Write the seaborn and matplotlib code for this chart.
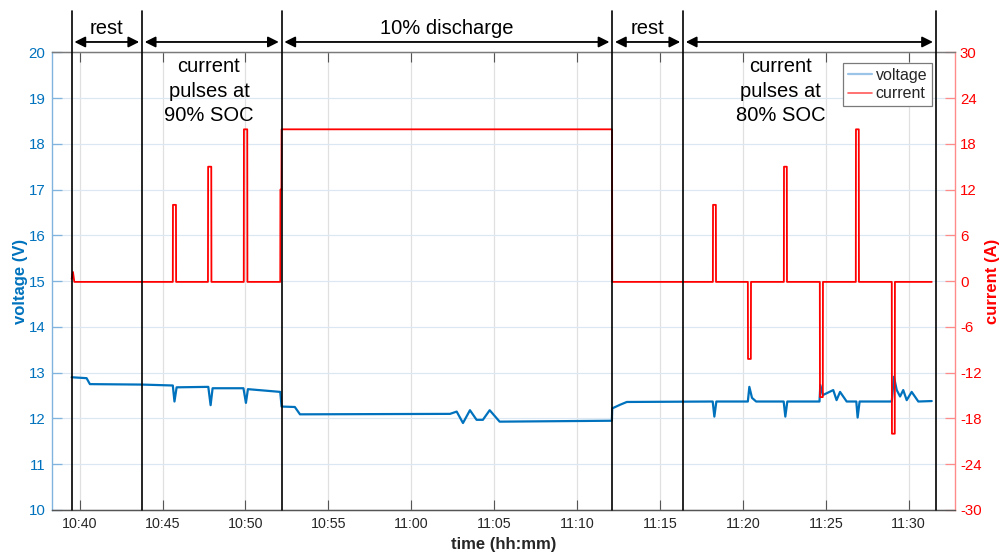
import numpy as np
import pandas as pd
import matplotlib
matplotlib.use("Agg")
import matplotlib.pyplot as plt
import seaborn as sns
from matplotlib.lines import Line2D

# ---------------- data (minutes after 10:40) ----------------
volt_t = [-0.48, 0.42, 0.62, 3.76, 5.62, 5.72, 5.85, 7.76, 7.90, 8.02, 9.88, 10.03,
          10.15, 12.10, 12.18, 12.98, 13.29, 22.34, 22.74, 23.12, 23.54, 23.94, 24.32,
          24.73, 25.33, 32.10, 32.12, 32.60, 33.00, 38.18, 38.28, 38.40, 40.30, 40.39,
          40.55, 40.80, 42.46, 42.56, 42.68, 44.62, 44.67, 44.82, 45.05, 45.45, 45.65,
          45.86, 46.26, 46.84, 46.92, 47.04, 48.98, 49.11, 49.28, 49.48, 49.67, 49.88,
          50.18, 50.58, 51.39]
volt_v = [12.90, 12.88, 12.75, 12.74, 12.72, 12.37, 12.68, 12.69, 12.29, 12.66, 12.66, 12.34,
          12.64, 12.58, 12.26, 12.25, 12.09, 12.10, 12.15, 11.90, 12.18, 11.97, 11.97,
          12.18, 11.93, 11.95, 12.22, 12.30, 12.36, 12.37, 12.04, 12.37, 12.37, 12.69,
          12.45, 12.37, 12.37, 12.04, 12.37, 12.37, 12.73, 12.51, 12.55, 12.62, 12.40,
          12.58, 12.37, 12.37, 12.02, 12.37, 12.37, 12.91, 12.62, 12.48, 12.62, 12.40,
          12.58, 12.37, 12.38]

curr_t = [-0.48, -0.40, -0.32, 5.62, 5.63, 5.81, 5.82, 7.74, 7.75, 7.94, 7.95, 9.90,
          9.91, 10.11, 10.12, 12.10, 12.11, 12.17, 12.18, 32.11, 32.12, 38.19, 38.20,
          38.37, 38.38, 40.30, 40.31, 40.48, 40.49, 42.47, 42.48, 42.65, 42.66, 44.64,
          44.65, 44.82, 44.83, 46.81, 46.82, 46.99, 47.00, 48.98, 48.99, 49.16, 49.17,
          51.39]
curr_a = [0.3, 1.2, -0.1, -0.1, 10.0, 10.0, -0.1, -0.1, 15.0, 15.0, -0.1, -0.1,
          19.9, 19.9, -0.1, -0.1, 12.0, 12.0, 19.9, 19.9, -0.1, -0.1, 10.0,
          10.0, -0.1, -0.1, -10.2, -10.2, -0.1, -0.1, 15.0, 15.0, -0.1, -0.1,
          -15.2, -15.2, -0.1, -0.1, 19.9, 19.9, -0.1, -0.1, -20.0, -20.0, -0.1,
          -0.1]

phase_bounds = [-0.48, 3.76, 12.18, 32.12, 36.39, 51.63]
phase_top_labels = ["rest", "", "10% discharge", "rest", ""]
pulse_labels = [(7.8, "current\npulses at\n90% SOC"), (42.27, "current\npulses at\n80% SOC")]

x_ticks = [0, 5, 10, 15, 20, 25, 30, 35, 40, 45, 50]
x_ticklabels = ["10:40", "10:45", "10:50", "10:55", "11:00", "11:05",
                "11:10", "11:15", "11:20", "11:25", "11:30"]
v_ticks = [10, 11, 12, 13, 14, 15, 16, 17, 18, 19, 20]
i_ticks = [-30, -24, -18, -12, -6, 0, 6, 12, 18, 24, 30]

# ---------------- style ----------------
sns.set_theme(style="white")
plt.rcParams["font.family"] = ["Liberation Sans", "DejaVu Sans"]
plt.rcParams["axes.unicode_minus"] = False

BLUE = "#0072BD"
RED = "#FF0000"
BLUE_AX = "#80b3de"
RED_AX = "#ff8a8a"
GRAY = "#262626"

fig = plt.figure(figsize=(10.03, 5.52), dpi=100)
ax = fig.add_axes([0.0521, 0.0761, 0.9000, 0.8292])
ax2 = ax.twinx()

vdf = pd.DataFrame({"time": volt_t, "voltage": volt_v})
cdf = pd.DataFrame({"time": curr_t, "current": curr_a})

sns.lineplot(data=vdf, x="time", y="voltage", ax=ax, color=BLUE, lw=1.6,
             estimator=None, sort=False, legend=False)
sns.lineplot(data=cdf, x="time", y="current", ax=ax2, color=RED, lw=1.3,
             estimator=None, sort=False, legend=False)

ax.set_xlim(-1.65, 52.79)
ax.set_ylim(10, 20)
ax2.set_ylim(-30, 30)

ax.set_xticks(x_ticks)
ax.set_xticklabels(x_ticklabels)
ax.set_yticks(v_ticks)
ax2.set_yticks(i_ticks)
ax2.set_yticklabels([str(v) for v in i_ticks])

# grid
ax.grid(True, axis="y", color="#dbe8f3", lw=0.9)
ax.grid(True, axis="x", color="#e0e0e0", lw=0.9)
ax.set_axisbelow(True)

# spines
for a in (ax, ax2):
    a.spines["top"].set_color("#7a7a7a")
    a.spines["bottom"].set_color("#555555")
    a.spines["top"].set_linewidth(0.9)
    a.spines["bottom"].set_linewidth(0.9)
ax.spines["left"].set_color(BLUE_AX)
ax.spines["left"].set_linewidth(1.0)
ax2.spines["left"].set_visible(False)
ax2.spines["right"].set_color(RED_AX)
ax2.spines["right"].set_linewidth(1.0)
ax.spines["right"].set_visible(False)

ax.tick_params(axis="x", direction="in", length=7.2, width=0.8, color="#555555",
               labelsize=10.3, labelcolor=GRAY, pad=5.2, top=True, bottom=True)
ax.tick_params(axis="y", direction="in", length=7.2, width=0.9, color=BLUE_AX,
               labelsize=10.8, labelcolor=BLUE, pad=5.0, left=True, right=False)
ax2.tick_params(axis="y", direction="in", length=7.2, width=0.9, color=RED_AX,
                labelsize=10.8, labelcolor=RED, pad=3.6, right=True, left=False)

ax.set_xlabel("time (hh:mm)", fontsize=12, fontweight="bold", color=GRAY, labelpad=4)
ax.set_ylabel("voltage (V)", fontsize=12, fontweight="bold", color=BLUE)
ax2.set_ylabel("current (A)", fontsize=12, fontweight="bold", color=RED)
ax.yaxis.set_label_coords(-0.0271, 0.5)
ax2.yaxis.set_label_coords(1.0335, 0.5)

# phase boundary lines
for b in phase_bounds:
    ax2.axvline(b, ymin=0, ymax=1.09, color="black", lw=1.2, clip_on=False, zorder=5)

# arrows + top labels
for i in range(len(phase_bounds) - 1):
    t0, t1 = phase_bounds[i], phase_bounds[i + 1]
    ax2.annotate("", xy=(t1, 1.0225), xytext=(t0, 1.0225),
                 xycoords=("data", "axes fraction"), textcoords=("data", "axes fraction"),
                 arrowprops=dict(arrowstyle="<|-|>", color="black", lw=1.3,
                                 mutation_scale=16, shrinkA=2.0, shrinkB=2.0),
                 annotation_clip=False)
    if phase_top_labels[i]:
        ax2.text((t0 + t1) / 2, 1.04, phase_top_labels[i], transform=ax2.get_xaxis_transform(),
                 ha="center", va="baseline", fontsize=14.5, color="black", clip_on=False)

for t, lab in pulse_labels:
    ax2.text(t, 0.989, lab, transform=ax2.get_xaxis_transform(), ha="center", va="top",
             fontsize=14.5, color="black", linespacing=1.36)

# legend
handles = [Line2D([], [], color="#9cc4e8", lw=1.6), Line2D([], [], color="#ff5a5a", lw=1.2)]
leg = ax2.legend(handles, ["voltage", "current"], loc="upper right",
                 bbox_to_anchor=(0.9745, 0.976), borderaxespad=0, fontsize=11.5,
                 frameon=True, fancybox=False, framealpha=1, edgecolor="#7a7a7a",
                 handlelength=1.5, handletextpad=0.25, borderpad=0.3, labelspacing=0.2)
leg.get_frame().set_linewidth(0.9)
leg.set_zorder(4)

fig.savefig("out.png", dpi=100)
